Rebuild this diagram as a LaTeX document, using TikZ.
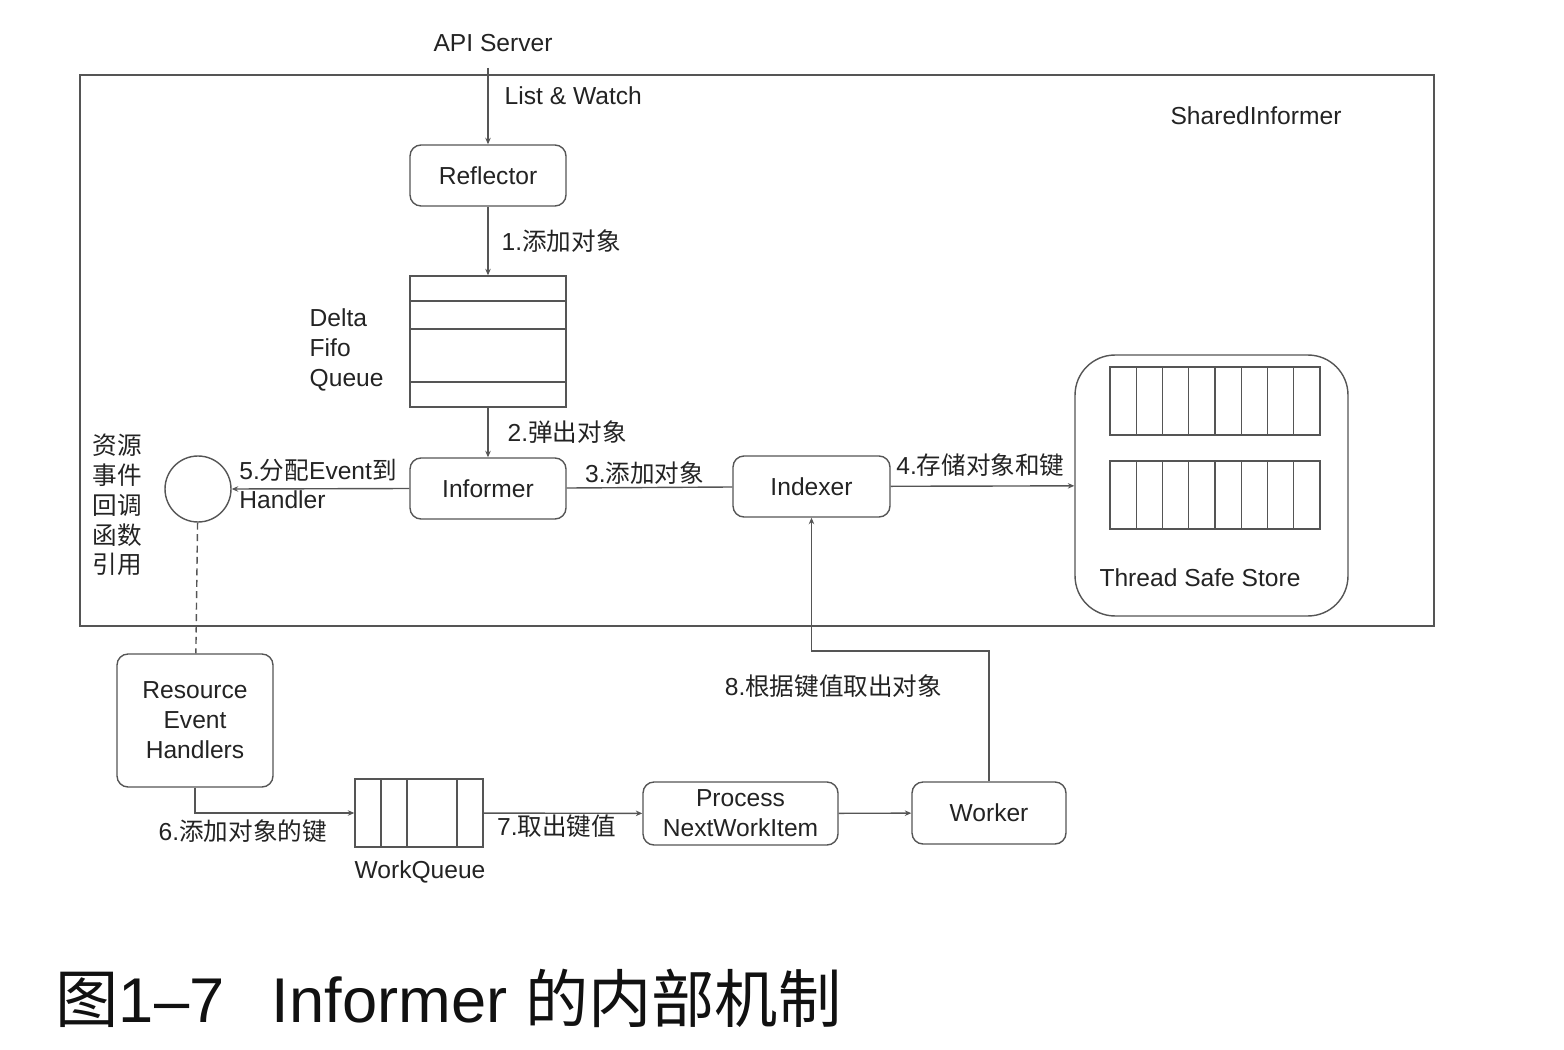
\documentclass[tikz,border=0pt]{standalone}
\usepackage{fontspec}
\setmainfont{Liberation Sans}
\newfontfamily\cjk{Noto Sans CJK SC}
\newcommand{\zhtxt}[1]{{\cjk #1}}
\usetikzlibrary{arrows.meta, positioning, calc}
\definecolor{cLine}{RGB}{85,85,85}
\definecolor{cText}{RGB}{35,35,35}
\definecolor{cCap}{RGB}{17,17,17}
\tikzset{
	blk/.style   ={rectangle, rounded corners=0.22cm, draw=cLine, minimum width=3.12cm, minimum height=1.22cm, align=center, text=cText, inner sep=0pt},
	qbox/.style  ={rectangle, draw=cLine, inner sep=0pt},
	txt/.style   ={text=cText, inner sep=0pt, align=center},
	lbl/.style   ={text=cText, inner sep=0pt},
	sig/.style   ={-{Stealth[length=1.3mm, width=1.1mm]}, draw=cLine},
	link/.style  ={draw=cLine},
	% caption under the figure
	capnote/.style={text=cCap, inner sep=0pt, font=\fontsize{36}{40}\selectfont},
}

\begin{document}
\begin{tikzpicture}[x=0.02cm, y=-0.02cm, font=\fontsize{14}{17}\selectfont, line width=0.8pt]
	\useasboundingbox (0,0) rectangle (1564,1050);
	\node[qbox, minimum width=27.08cm, minimum height=11.02cm] (shared) at (757,350.5) {};
	\node[txt] (sharedlbl) at (1256,116) {SharedInformer};
	\node[txt] (api) at (493,43) {API Server};
	\coordinate (apiout) at (488,68);
	\node[blk] (refl) at (488,175.5) {Reflector};
	\node[qbox, minimum width=3.12cm, minimum height=2.62cm] (fifo) at (488,341.5) {};
	\foreach \y in {301,329,382} \draw[link] (410,\y) -- (566,\y);
	\node[txt, align=left, anchor=west] (fifolbl) at (309,350) {Delta\\Fifo\\Queue};
	\node[blk] (inf) at (488,488.5) {Informer};
	\node[circle, draw=cLine, minimum size=1.32cm, inner sep=0pt] (cb) at (198,489) {};
	\node[txt, font=\fontsize{14}{17}\cjk] (cbtxt) at (117,505) {资源\\事件\\回调\\函数\\引用};
	\node[blk, minimum width=3.14cm] (idx) at (811.5,486.5) {Indexer};
	\node[blk, minimum width=5.46cm, minimum height=5.22cm, rounded corners=0.8cm] (store) at (1211.5,485.5) {};
	\foreach \t in {367,461} {
		\draw[link] (1110,\t) rectangle (1320,\t+68);
		\foreach \i in {1,...,7} \draw[link] (1110+\i*26.25,\t) -- ++(0,68);
	}
	\node[txt] (storelbl) at (1200,578) {Thread Safe Store};
	\node[blk, minimum height=2.66cm] (reh) at (195,720.5) {Resource\\Event\\Handlers};
	\node[qbox, minimum width=2.56cm, minimum height=1.36cm] (wq) at (419,813) {};
	\foreach \x in {381,407,457} \draw[link] (\x,779) -- (\x,847);
	\node[txt] (wqlbl) at (420,872) {WorkQueue};
	\node[blk, minimum width=3.9cm, minimum height=1.26cm] (proc) at (740.5,813.5) {Process\\NextWorkItem};
	\node[blk, minimum width=3.08cm, minimum height=1.24cm] (wrk) at (989,813) {Worker};
	\coordinate (turn) at (989,651);

	\draw[sig] (apiout) -- node[lbl, pos=0.36, anchor=west, xshift=0.32cm] {List \& Watch} (refl);
	\draw[sig] (refl) -- node[lbl, anchor=west, xshift=0.26cm] {1.\zhtxt{添加对象}} (fifo);
	\draw[sig] (fifo) -- node[lbl, anchor=west, xshift=0.38cm] {2.\zhtxt{弹出对象}} (inf);
	\draw[sig] (inf.west) -- (cb.east) node[lbl, anchor=west, align=left, xshift=0.14cm, yshift=0.1cm] {5.\zhtxt{分配}Event\zhtxt{到}\\Handler};
	\draw[link] (inf) -- node[lbl, pos=0.47, anchor=south, yshift=0.04cm] {3.\zhtxt{添加对象}} (idx);
	\draw[sig] (idx) -- node[lbl, pos=0, anchor=south west, xshift=0.1cm, yshift=0.18cm] {4.\zhtxt{存储对象和键}} (store);
	\draw[link, dash pattern=on 4pt off 2.5pt] (cb) -- (reh);
	\draw[sig] (reh) |- node[lbl, pos=0.65, anchor=north, yshift=-0.12cm] {6.\zhtxt{添加对象的键}} (wq);
	\draw[sig] (wq) -- node[lbl, pos=0.46, anchor=north, yshift=-0.02cm] {7.\zhtxt{取出键值}} (proc);
	\draw[sig] (proc) -- (wrk);
	\draw[sig] (wrk) -- (turn) -| node[lbl, pos=0.438, anchor=north, yshift=-0.46cm] {8.\zhtxt{根据键值取出对象}} (idx);

	\node[capnote, anchor=west] (caption) at (55,998) {\zhtxt{图}1–7\hspace{0.95cm}Informer \zhtxt{的内部机制}};
\end{tikzpicture}
\end{document}
